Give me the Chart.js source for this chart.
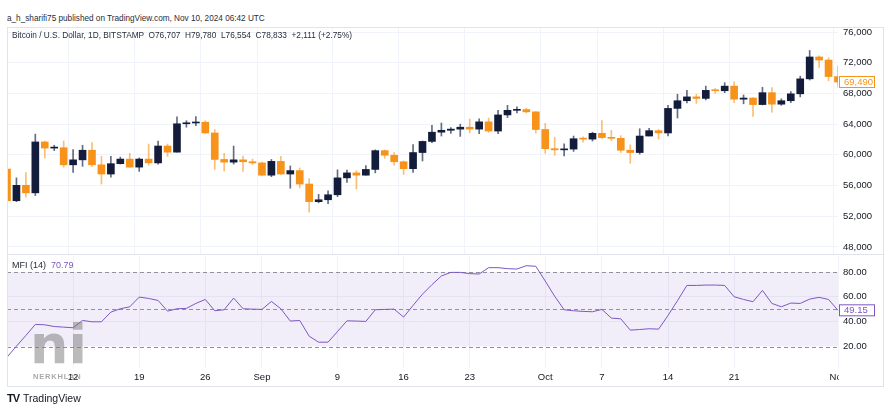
<!DOCTYPE html>
<html>
<head>
<meta charset="utf-8">
<script src="https://cdn.jsdelivr.net/npm/chart.js@4.4.1/dist/chart.umd.min.js"></script>
<style>
  body { margin:0; width:890px; height:420px; background:#fff; position:relative; overflow:hidden;
         font-family:"Liberation Sans", Arial, sans-serif; color:#131722; }
  .txt { position:absolute; white-space:pre; transform-origin:0 50%; line-height:12px; }
  #frame { position:absolute; left:7px; top:27px; width:875px; height:358px; border:1px solid #e0e3eb; pointer-events:none; }
  #sep { position:absolute; left:7px; top:254px; width:877px; height:1px; background:#e0e3eb; }
  canvas { position:absolute; left:7px; }
  #priceCanvas { top:27px; }
  #mfiCanvas { top:254px; }
</style>
</head>
<body>
<canvas id="priceCanvas" width="876" height="227"></canvas>
<canvas id="mfiCanvas" width="876" height="132"></canvas>
<div id="sep"></div>
<div id="frame"></div>

<div class="txt" style="left:7px;top:12px;font-size:9.5px;color:#2a2e39" data-w="258">a_h_sharifi75 published on TradingView.com, Nov 10, 2024 06:42 UTC</div>
<div class="txt" style="left:12px;top:29px;font-size:9px;color:#2a2e39" data-w="340">Bitcoin / U.S. Dollar, 1D, BITSTAMP  O76,707  H79,780  L76,554  C78,833  +2,111 (+2.75%)</div>
<div class="txt" style="left:12px;top:259px;font-size:9px;color:#2a2e39">MFI (14)  <span style="color:#7e57c2">70.79</span></div>

<!-- watermark -->
<div class="txt" style="left:30px;top:318px;font-size:54px;line-height:54px;font-weight:bold;color:rgba(120,120,120,0.5);font-family:'DejaVu Sans'">ni</div>
<div class="txt" style="left:33px;top:371px;font-size:7.5px;font-weight:bold;letter-spacing:0.8px;color:rgba(120,120,120,0.65)">NERKHLAN</div>

<div class="txt" style="left:7px;top:392px;font-size:11px;font-weight:bold;letter-spacing:-1px;color:#131722">TV</div>
<div class="txt" style="left:23px;top:392px;font-size:10.5px;color:#131722">TradingView</div>

<script>
// daily candles, Aug 5 -> Nov 1 2024 (BITSTAMP)
var days = [
  '08-05','08-06','08-07','08-08','08-09','08-10','08-11','08-12','08-13','08-14','08-15','08-16','08-17','08-18',
  '08-19','08-20','08-21','08-22','08-23','08-24','08-25','08-26','08-27','08-28','08-29','08-30','08-31',
  '09-01','09-02','09-03','09-04','09-05','09-06','09-07','09-08','09-09','09-10','09-11','09-12','09-13','09-14','09-15',
  '09-16','09-17','09-18','09-19','09-20','09-21','09-22','09-23','09-24','09-25','09-26','09-27','09-28','09-29','09-30',
  '10-01','10-02','10-03','10-04','10-05','10-06','10-07','10-08','10-09','10-10','10-11','10-12','10-13','10-14','10-15',
  '10-16','10-17','10-18','10-19','10-20','10-21','10-22','10-23','10-24','10-25','10-26','10-27','10-28','10-29','10-30',
  '10-31','11-01'
];
var open = [
  58150,54020,56030,55050,61680,60880,60930,58700,59350,60600,58700,57500,58850,59450,
  58400,59450,58950,61150,60350,64050,64150,64250,62850,59400,59050,59350,59100,
  58950,57350,59150,57500,57950,56200,53900,54150,54800,57000,57650,57350,58100,60550,59950,
  59100,58200,60300,61750,62950,63200,63350,63600,63350,64300,63100,65200,65800,65900,65600,
  63300,60800,60650,60750,62100,62050,62800,62250,62150,60600,60300,62450,63150,62850,66050,
  67050,67550,67350,68400,68350,68950,67250,67400,66550,68100,66600,67050,67950,69900,72750,
  72350,70200
];
var high = [
  58300,57000,57700,62700,61800,61250,61800,60700,61250,61600,59800,59800,59700,60200,
  59600,61400,61800,61400,64950,64450,65000,64450,63300,60200,61150,59850,59450,
  59050,59400,59800,58550,58300,56900,54850,55300,58050,58000,57950,58600,60650,60650,60300,
  59200,61350,61800,63850,64150,63550,64000,64650,64700,64800,65800,66450,66250,66100,65650,
  64100,62300,61450,62450,62350,62950,64450,63200,62500,61300,63400,63450,63300,66450,67900,
  68400,67900,68950,68650,69400,69500,67800,67450,68800,68750,67300,68250,70250,73600,72900,
  72650,71600
];
var low = [
  49100,53900,54500,54700,59600,60550,58400,57700,58500,58450,56200,57100,58800,58400,
  57850,58650,58800,59800,60350,63600,63800,62800,58100,57900,58800,57850,58750,
  57250,57150,57450,55650,55700,52550,53750,53650,54550,56400,55550,57350,57650,59550,58650,
  57450,57700,59200,61600,62450,62800,62400,62850,62750,62950,62750,64850,65450,65450,62850,
  60200,59950,59850,60450,61650,61800,62100,61850,60300,58900,60100,62450,62050,62450,64800,
  66750,66700,67150,68000,68100,66800,66650,65000,66500,65550,66450,66800,67550,69750,71400,
  69650,68800
];
var close = [
  54020,56030,55050,61680,60880,60930,58700,59350,60600,58700,57500,58850,59450,58400,
  59450,58950,61150,60350,64050,64150,64250,62850,59400,59050,59350,59100,58950,
  57350,59150,57500,57950,56200,53900,54150,54800,57000,57650,57350,58100,60550,59950,59100,
  58200,60300,61750,62950,63200,63350,63600,63350,64300,63100,65200,65800,65900,65600,63300,
  60800,60650,60750,62100,62050,62800,62250,62150,60600,60300,62450,63150,62850,66050,67050,
  67550,67350,68400,68350,68950,67250,67400,66550,68100,66600,67050,67950,69900,72750,72350,
  70200,69490
];
// Money Flow Index (14)
var mfi = [
  11.4,20.3,28.9,37.8,37.5,36.1,35.6,35.1,41.0,39.9,39.9,47.7,50.4,52.0,
  59.8,58.7,57.1,48.5,50.4,50.7,54.7,57.9,48.8,49.6,59.0,50.4,50.1,
  49.9,56.3,50.4,40.5,41.0,28.3,23.5,23.5,32.1,40.7,40.5,40.2,49.6,49.9,50.1,
  43.7,53.1,62.2,69.8,76.8,79.7,79.7,78.7,78.4,83.5,83.5,82.7,82.4,85.1,84.6,
  72.7,60.4,49.6,48.8,48.3,48.0,49.9,42.9,42.3,33.2,33.7,34.3,34.0,45.0,56.9,
  69.2,69.2,69.5,69.5,69.2,60.1,57.9,56.1,65.2,54.7,52.0,55.0,54.7,58.2,59.6,
  57.9,49.15
];
var priceTicks = [48000, 52000, 56000, 60000, 64000, 68000, 72000, 76000];
var mfiTicks = [20, 40, 60, 80];
var mfiBands = [80, 50, 20];
var tickDays = ['08-12','08-19','08-26','09-01','09-09','09-16','09-23','10-01','10-07','10-14','10-21','11-01'];
var tickText = ['12','19','26','Sep','9','16','23','Oct','7','14','21','Nov'];
var lastClose = 69490;
var lastMfi = 49.15;

var UP = '#131d3b', DOWN = '#f7931a';
var UP_WICK = 'rgba(19,29,59,0.65)', DOWN_WICK = 'rgba(247,147,26,0.6)';
var GRID = '#f0f3fa';
var AXIS_FONT = { family: 'Liberation Sans', size: 9.5 };

var bodyColors = close.map(function (c, i) { return c >= open[i] ? UP : DOWN; });
var wickColors = close.map(function (c, i) { return c >= open[i] ? UP_WICK : DOWN_WICK; });

function vGrid(ctx) {
  return tickDays.indexOf(days[ctx.index]) >= 0 ? GRID : 'rgba(0,0,0,0)';
}

// chart.js reserves room for half a label at the ends of an axis, tradingview doesn't
function noPad(s) {
  s.paddingTop = 0; s.paddingBottom = 0; s.paddingLeft = 0; s.paddingRight = 0;
}

// little value box on the right axis
function valueBox(chart, y, text, color) {
  var c = chart.ctx, x = chart.chartArea.right + 1;
  c.save();
  c.fillStyle = '#fff';
  c.fillRect(x, y - 6, 36, 12);
  c.strokeStyle = color;
  c.lineWidth = 1;
  c.strokeRect(x + 0.5, y - 5.5, 35, 11);
  c.fillStyle = color;
  c.font = '9.5px "Liberation Sans"';
  c.textBaseline = 'middle';
  c.fillText(text, x + 5, y + 0.5);
  c.restore();
}

var priceChart = new Chart(document.getElementById('priceCanvas'), {
  type: 'bar',
  data: {
    labels: days,
    datasets: [
      {
        label: 'body',
        data: days.map(function (d, i) { return [open[i], close[i]]; }),
        backgroundColor: bodyColors,
        barThickness: 7,
        minBarLength: 1,
        grouped: false,
        order: 1
      },
      {
        label: 'wick',
        data: days.map(function (d, i) { return [low[i], high[i]]; }),
        backgroundColor: wickColors,
        barThickness: 1,
        grouped: false,
        order: 2
      }
    ]
  },
  options: {
    responsive: false,
    devicePixelRatio: 1,
    animation: false,
    layout: { padding: 0 },
    plugins: { legend: { display: false }, tooltip: { enabled: false } },
    scales: {
      x: {
        offset: false,
        ticks: { display: false, autoSkip: false },
        grid: { color: vGrid, drawTicks: false },
        border: { display: false },
        afterFit: function (s) { s.height = 0; noPad(s); }
      },
      y: {
        position: 'right',
        min: 47084,
        max: 76654,
        afterBuildTicks: function (s) { s.ticks = priceTicks.map(function (v) { return { value: v }; }); },
        afterFit: function (s) { s.width = 45; noPad(s); },
        ticks: {
          font: AXIS_FONT, color: '#131722', padding: 5,
          callback: function (v) { return v.toLocaleString('en-US'); }
        },
        grid: { color: GRID, drawTicks: false },
        border: { display: false }
      }
    }
  },
  plugins: [{
    id: 'lastPrice',
    afterDraw: function (chart) {
      valueBox(chart, chart.scales.y.getPixelForValue(lastClose), lastClose.toLocaleString('en-US'), DOWN);
    }
  }]
});

var mfiChart = new Chart(document.getElementById('mfiCanvas'), {
  type: 'line',
  data: {
    labels: days,
    datasets: [{
      label: 'MFI',
      data: mfi,
      borderColor: '#7e57c2',
      borderWidth: 1,
      pointRadius: 0,
      tension: 0
    }]
  },
  options: {
    responsive: false,
    devicePixelRatio: 1,
    animation: false,
    layout: { padding: { top: 2 } },
    plugins: { legend: { display: false }, tooltip: { enabled: false } },
    scales: {
      x: {
        offset: false,
        ticks: {
          autoSkip: false, maxRotation: 0, padding: 4, font: AXIS_FONT, color: '#131722',
          callback: function (v, i) {
            var k = tickDays.indexOf(days[i]);
            return k >= 0 ? tickText[k] : '';
          }
        },
        grid: { color: vGrid, drawTicks: false },
        border: { display: false },
        afterFit: function (s) { s.height = 18; noPad(s); }
      },
      y: {
        position: 'right',
        min: 2.7,
        max: 92.9,
        afterBuildTicks: function (s) { s.ticks = mfiTicks.map(function (v) { return { value: v }; }); },
        afterFit: function (s) { s.width = 45; noPad(s); },
        ticks: {
          font: AXIS_FONT, color: '#131722', padding: 5,
          callback: function (v) { return v.toFixed(2); }
        },
        grid: {
          color: function (ctx) { return (ctx.tick && (ctx.tick.value === 40 || ctx.tick.value === 60)) ? GRID : 'rgba(0,0,0,0)'; },
          drawTicks: false
        },
        border: { display: false }
      }
    }
  },
  plugins: [{
    id: 'mfiBand',
    beforeDatasetsDraw: function (chart) {
      var c = chart.ctx, a = chart.chartArea, y = chart.scales.y;
      var top = y.getPixelForValue(mfiBands[0]), bot = y.getPixelForValue(mfiBands[2]);
      c.save();
      c.fillStyle = 'rgba(126,87,194,0.1)';
      c.fillRect(a.left, top, a.right - a.left, bot - top);
      c.strokeStyle = '#8f929b';
      c.lineWidth = 1;
      c.setLineDash([4, 3]);
      mfiBands.forEach(function (v) {
        var py = Math.round(y.getPixelForValue(v)) + 0.5;
        c.beginPath();
        c.moveTo(a.left, py);
        c.lineTo(a.right, py);
        c.stroke();
      });
      c.restore();
    },
    afterDraw: function (chart) {
      var c = chart.ctx, a = chart.chartArea;
      // the last date label is cut by the price scale
      c.save();
      c.fillStyle = '#fff';
      c.fillRect(a.right + 1, a.bottom + 1, 44, 17);
      c.restore();
      valueBox(chart, chart.scales.y.getPixelForValue(lastMfi), lastMfi.toFixed(2), '#7e57c2');
    }
  }]
});

// squeeze header texts to the width they have in the screenshot
document.querySelectorAll('[data-w]').forEach(function (el) {
  var w = +el.getAttribute('data-w');
  el.style.transform = 'scaleX(' + (w / el.offsetWidth) + ')';
});
</script>
</body>
</html>
